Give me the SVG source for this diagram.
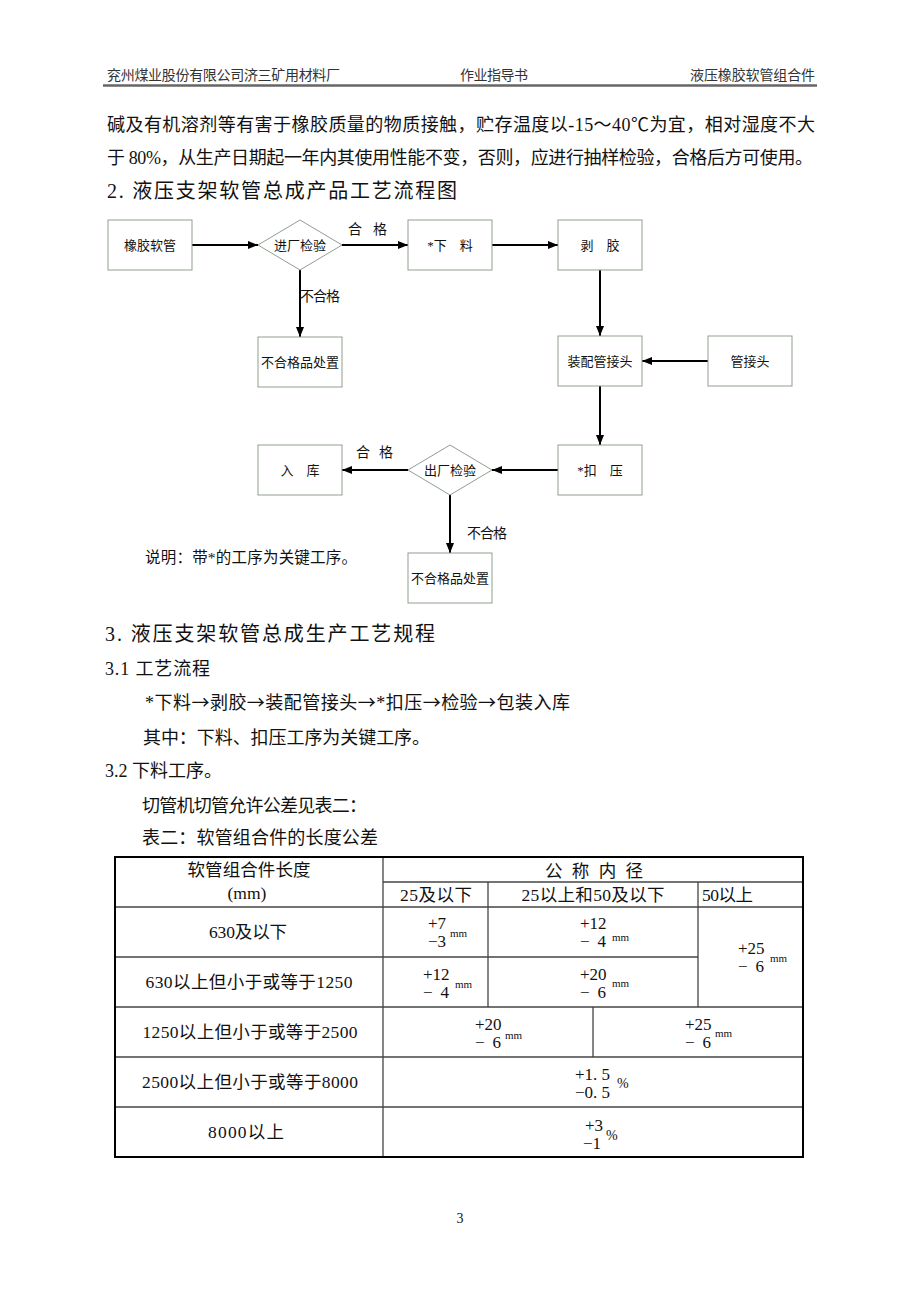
<svg xmlns="http://www.w3.org/2000/svg" width="920" height="1302" viewBox="0 0 920 1302">
<style>
  .t { font-family: "Liberation Serif", "Noto Sans CJK SC", serif; fill: #111; }
  .hd { font-size: 14px; fill: #333; }
  .body { font-size: 18px; }
  .h2 { font-size: 20px; }
  .lbl { font-size: 13px; text-anchor: middle; }
  .edge { font-size: 14px; }
  .box { fill: #fff; stroke: #8f9f8f; stroke-width: 1; }
  .conn { stroke: #000; stroke-width: 2; fill: none; marker-end: url(#ah); }
  .tc { font-size: 17.5px; text-anchor: middle; }
  .num { font-size: 17px; }
  .mm { font-size: 11px; }
  .pct { font-size: 14px; }
  .outer { fill: none; stroke: #000; stroke-width: 2; }
  .inner { stroke: #444; stroke-width: 1.3; }
  .arr { font-family: "Noto Sans CJK SC", sans-serif; }
</style>
<defs>
  <marker id="ah" markerWidth="10" markerHeight="8" refX="10" refY="4" orient="auto" markerUnits="userSpaceOnUse">
    <path d="M0,0 L10,4 L0,8 z" fill="#000"/>
  </marker>
</defs>
<rect width="920" height="1302" fill="#fff"/>

<!-- Header -->
<g id="header">
  <text class="t hd" x="107" y="80" textLength="233">兖州煤业股份有限公司济三矿用材料厂</text>
  <text class="t hd" x="460" y="80" textLength="68">作业指导书</text>
  <text class="t hd" x="690" y="80" textLength="125">液压橡胶软管组合件</text>
  <line x1="103" y1="85.5" x2="817" y2="85.5" stroke="#666" stroke-width="2.5"/>
</g>

<!-- Body text -->
<g id="intro">
  <text class="t body" x="107" y="131" textLength="708">碱及有机溶剂等有害于橡胶质量的物质接触，贮存温度以-15～40℃为宜，相对湿度不大</text>
  <text class="t body" x="107" y="164" textLength="706">于 80%，从生产日期起一年内其使用性能不变，否则，应进行抽样检验，合格后方可使用。</text>
  <text class="t h2" x="107" y="198" textLength="350">2. 液压支架软管总成产品工艺流程图</text>
</g>

<!-- Connectors -->
<g id="connectors">
  <line class="conn" x1="192" y1="245" x2="258" y2="245"/>
  <line class="conn" x1="342" y1="245" x2="408" y2="245"/>
  <line class="conn" x1="492" y1="245" x2="558" y2="245"/>
  <line class="conn" x1="300" y1="270" x2="300" y2="337"/>
  <line class="conn" x1="600" y1="270" x2="600" y2="336"/>
  <line class="conn" x1="708" y1="361" x2="642" y2="361"/>
  <line class="conn" x1="600" y1="386" x2="600" y2="445"/>
  <line class="conn" x1="558" y1="470" x2="492" y2="470"/>
  <line class="conn" x1="408" y1="470" x2="342" y2="470"/>
  <line class="conn" x1="450" y1="495" x2="450" y2="553"/>
  <text class="t edge" x="348" y="234" textLength="39">合 格</text>
  <text class="t edge" x="300" y="301" textLength="40">不合格</text>
  <text class="t edge" x="356" y="457" textLength="37">合 格</text>
  <text class="t edge" x="467" y="538" textLength="40">不合格</text>
</g>

<!-- Nodes -->
<g id="n-rubber-hose">
  <rect class="box" x="108" y="220" width="84" height="50"/>
  <text class="t lbl" x="150" y="250">橡胶软管</text>
</g>
<g id="n-incoming-check">
  <polygon class="box" points="258,245 300,220 342,245 300,270"/>
  <text class="t lbl" x="300" y="250">进厂检验</text>
</g>
<g id="n-cutting">
  <rect class="box" x="408" y="220" width="84" height="50"/>
  <text class="t lbl" x="450" y="250">*下　料</text>
</g>
<g id="n-stripping">
  <rect class="box" x="558" y="220" width="84" height="50"/>
  <text class="t lbl" x="600" y="250">剥　胶</text>
</g>
<g id="n-reject1">
  <rect class="box" x="258" y="337" width="84" height="50"/>
  <text class="t lbl" x="300" y="367">不合格品处置</text>
</g>
<g id="n-assemble">
  <rect class="box" x="558" y="336" width="84" height="50"/>
  <text class="t lbl" x="600" y="366">装配管接头</text>
</g>
<g id="n-fitting">
  <rect class="box" x="708" y="336" width="84" height="50"/>
  <text class="t lbl" x="750" y="366">管接头</text>
</g>
<g id="n-crimping">
  <rect class="box" x="558" y="445" width="84" height="50"/>
  <text class="t lbl" x="600" y="475">*扣　压</text>
</g>
<g id="n-final-check">
  <polygon class="box" points="408,470 450,445 492,470 450,495"/>
  <text class="t lbl" x="450" y="475">出厂检验</text>
</g>
<g id="n-storage">
  <rect class="box" x="258" y="445" width="84" height="50"/>
  <text class="t lbl" x="300" y="475">入　库</text>
</g>
<g id="n-reject2">
  <rect class="box" x="408" y="553" width="84" height="50"/>
  <text class="t lbl" x="450" y="583">不合格品处置</text>
</g>
<g id="note">
  <text class="t" x="145" y="563" font-size="15.5" textLength="212">说明：带*的工序为关键工序。</text>
</g>

<!-- Section 3 -->
<g id="section3">
  <text class="t h2" x="105" y="641" textLength="330">3. 液压支架软管总成生产工艺规程</text>
  <text class="t body" x="105" y="675" textLength="105">3.1 工艺流程</text>
  <text class="t body" x="145" y="709" textLength="425">*下料<tspan class="arr">→</tspan>剥胶<tspan class="arr">→</tspan>装配管接头<tspan class="arr">→</tspan>*扣压<tspan class="arr">→</tspan>检验<tspan class="arr">→</tspan>包装入库</text>
  <text class="t body" x="143" y="744" textLength="287">其中：下料、扣压工序为关键工序。</text>
  <text class="t body" x="105" y="777" textLength="117">3.2 下料工序。</text>
  <text class="t body" x="142" y="812" textLength="225">切管机切管允许公差见表二：</text>
  <text class="t body" x="142" y="844" textLength="236">表二：软管组合件的长度公差</text>
</g>

<!-- Table -->
<g id="table">
  <line class="inner" x1="383" y1="882" x2="803" y2="882"/>
  <line class="inner" x1="115" y1="907" x2="803" y2="907"/>
  <line class="inner" x1="115" y1="957" x2="698" y2="957"/>
  <line class="inner" x1="115" y1="1007" x2="803" y2="1007"/>
  <line class="inner" x1="115" y1="1057" x2="803" y2="1057"/>
  <line class="inner" x1="115" y1="1107" x2="803" y2="1107" stroke-width="2"/>
  <line class="inner" x1="383" y1="857" x2="383" y2="1157"/>
  <line class="inner" x1="488" y1="882" x2="488" y2="1007"/>
  <line class="inner" x1="698" y1="882" x2="698" y2="1007"/>
  <line class="inner" x1="593" y1="1007" x2="593" y2="1057"/>
  <rect class="outer" x="115" y="857" width="688" height="300"/>

  <text class="t tc" x="249" y="876" textLength="123">软管组合件长度</text>
  <text class="t tc" x="247" y="899" font-size="13">(mm)</text>
  <text class="t tc" x="594" y="877" textLength="98">公 称 内 径</text>
  <text class="t tc" x="436" y="901" textLength="72">25及以下</text>
  <text class="t tc" x="593" y="901" textLength="143">25以上和50及以下</text>
  <text class="t" x="702" y="901" font-size="17.5" textLength="51">50以上</text>

  <text class="t tc" x="248" y="938" textLength="78">630及以下</text>
  <text class="t tc" x="249" y="988" textLength="207">630以上但小于或等于1250</text>
  <text class="t tc" x="250" y="1038" textLength="215">1250以上但小于或等于2500</text>
  <text class="t tc" x="250" y="1088" textLength="216">2500以上但小于或等于8000</text>
  <text class="t tc" x="246" y="1138" textLength="76">8000以上</text>

  <text class="t num" x="428" y="929">+7</text>
  <text class="t num" x="428" y="947">−3</text>
  <text class="t mm" x="450" y="937">mm</text>

  <text class="t num" x="580" y="929">+12</text>
  <text class="t num" x="580" y="947" textLength="26">− 4</text>
  <text class="t mm" x="612" y="941">mm</text>

  <text class="t num" x="738" y="954">+25</text>
  <text class="t num" x="738" y="972" textLength="26">− 6</text>
  <text class="t mm" x="770" y="962">mm</text>

  <text class="t num" x="423" y="980">+12</text>
  <text class="t num" x="423" y="998" textLength="26">− 4</text>
  <text class="t mm" x="455" y="988">mm</text>

  <text class="t num" x="580" y="980">+20</text>
  <text class="t num" x="580" y="998" textLength="26">− 6</text>
  <text class="t mm" x="612" y="987">mm</text>

  <text class="t num" x="475" y="1030">+20</text>
  <text class="t num" x="475" y="1048" textLength="26">− 6</text>
  <text class="t mm" x="505" y="1039">mm</text>

  <text class="t num" x="685" y="1030">+25</text>
  <text class="t num" x="685" y="1048" textLength="26">− 6</text>
  <text class="t mm" x="715" y="1037">mm</text>

  <text class="t num" x="575" y="1080" textLength="35">+1. 5</text>
  <text class="t num" x="575" y="1098" textLength="35">−0. 5</text>
  <text class="t pct" x="617" y="1088">%</text>

  <text class="t num" x="585" y="1131">+3</text>
  <text class="t num" x="583" y="1149">−1</text>
  <text class="t pct" x="606" y="1140">%</text>
</g>

<g id="page-number">
  <text class="t" x="460" y="1223" font-size="14" text-anchor="middle">3</text>
</g>
</svg>
